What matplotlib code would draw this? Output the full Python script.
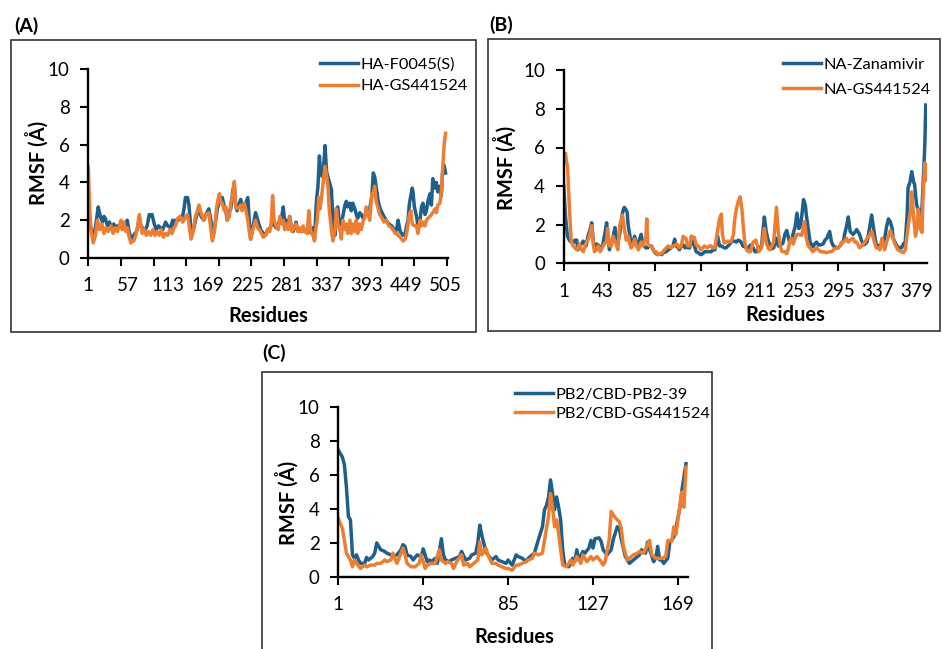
import matplotlib
matplotlib.use('Agg')
import matplotlib.pyplot as plt
from matplotlib.patches import Rectangle

plt.rcParams['font.family'] = ['Lato', 'DejaVu Sans']

W, H = 943, 649
BLUE = '#1F5F8B'
ORANGE = '#ED7D31'

# (A) HA : (residue, RMSF)
ha_f0045 = [(1,1.9),(4,1.7),(8,1.1),(11,1.6),(15,2.7),(18,2.2),(21,1.9),(23,2.2),(25,2.1),(28,1.7),
    (31,1.9),(33,1.6),(37,1.8),(40,1.5),(42,1.7),(45,1.6),(47,1.9),(51,1.6),(54,1.8),(56,2.0),
    (58,1.5),(61,1.0),(65,1.2),(69,1.4),(73,1.9),(77,1.6),(80,1.4),(84,1.7),(87,2.3),(89,2.2),
    (91,2.3),(94,1.8),(97,1.5),(100,1.7),(103,1.6),(106,1.5),(110,1.9),(113,1.7),(117,1.6),(120,2.0),
    (122,1.7),(124,2.0),(128,2.0),(131,2.2),(134,2.2),(136,2.6),(138,3.2),(141,3.2),(143,2.8),(146,1.4),
    (150,1.6),(154,2.3),(157,2.6),(160,2.2),(164,2.0),(167,2.3),(171,2.6),(174,2.0),(176,1.1),(180,1.8),
    (183,2.6),(186,3.0),(188,3.2),(190,3.2),(193,2.7),(195,2.5),(197,2.0),(200,2.5),(202,2.6),(205,3.6),
    (207,3.9),(209,2.7),(211,2.5),(214,2.9),(216,3.1),(218,2.6),(221,2.7),(224,3.0),(226,3.2),(228,2.0),
    (230,1.0),(233,1.6),(237,2.4),(240,2.0),(244,1.5),(248,1.3),(251,1.2),(254,1.5),(258,1.6),(261,2.1),
    (264,1.7),(266,1.6),(269,1.8),(271,2.0),(274,2.2),(276,2.7),(278,1.9),(280,2.0),(283,1.6),(285,2.2),
    (288,1.5),(290,1.4),(292,1.6),(294,1.9),(297,1.4),(299,1.5),(302,1.4),(304,1.6),(306,1.4),(308,1.5),
    (310,1.3),(312,1.6),(314,1.4),(316,1.3),(318,1.6),(320,1.0),(323,3.1),(325,3.8),(327,5.4),(329,4.4),
    (332,4.3),(335,5.95),(337,4.6),(339,4.3),(342,3.9),(344,3.6),(346,2.0),(349,1.2),(351,2.6),(353,2.7),
    (356,1.5),(358,1.7),(360,2.2),(363,2.8),(365,3.0),(367,2.7),(370,2.9),(372,2.5),(374,2.9),(377,2.6),
    (379,2.3),(381,2.1),(384,2.4),(386,2.3),(389,2.1),(391,2.2),(393,2.5),(396,2.4),(398,2.6),(401,3.3),
    (403,4.5),(405,4.3),(407,3.8),(410,3.0),(412,2.7),(414,2.5),(418,2.2),(421,2.0),(425,1.8),(429,1.7),
    (431,1.6),(434,1.4),(436,1.5),(438,2.0),(441,1.4),(445,1.2),(448,1.3),(450,1.7),(452,2.0),(454,2.9),
    (456,3.3),(458,3.7),(459,3.5),(461,2.7),(464,2.2),(466,1.7),(469,2.0),(471,2.7),(473,2.9),(476,2.3),
    (478,2.5),(480,3.0),(483,3.4),(485,2.8),(487,4.2),(490,3.7),(492,4.0),(494,3.5),(497,3.8),(499,3.3),
    (501,4.7),(503,4.9),(505,4.5)]
ha_gs441524 = [(1,4.8),(3,2.5),(5,1.4),(8,0.8),(11,1.2),(14,2.0),(17,1.5),(20,1.8),(23,1.3),(26,1.6),
    (29,1.4),(33,1.7),(36,1.3),(39,1.6),(42,1.4),(45,1.7),(47,2.0),(49,1.5),(51,1.9),(54,1.4),
    (56,1.6),(58,1.2),(61,0.8),(63,0.9),(65,0.9),(68,1.2),(70,1.6),(73,2.3),(75,1.8),(77,1.3),
    (80,1.5),(83,1.2),(86,1.4),(89,1.2),(92,1.5),(95,1.2),(98,1.4),(101,1.2),(104,1.5),(107,1.1),
    (110,1.3),(113,1.2),(116,1.5),(119,1.3),(122,1.6),(124,1.7),(127,2.1),(131,2.2),(134,1.9),(136,2.0),
    (138,2.2),(141,2.3),(143,1.8),(146,1.0),(149,1.4),(152,2.2),(155,2.5),(157,2.8),(160,2.4),(164,2.0),
    (167,2.3),(171,2.4),(173,1.8),(176,0.9),(179,1.4),(182,2.7),(184,3.1),(186,3.4),(188,2.9),(190,2.9),
    (193,2.5),(195,2.7),(197,2.0),(200,2.2),(202,2.9),(205,3.4),(207,4.05),(209,2.7),(211,2.6),(214,2.7),
    (216,2.8),(218,2.5),(221,2.9),(224,2.4),(226,2.0),(228,1.4),(230,1.0),(233,1.5),(237,2.0),(240,1.6),
    (244,1.4),(248,1.1),(251,1.2),(254,1.5),(257,1.4),(259,1.8),(261,3.3),(263,2.0),(266,1.7),(269,1.5),
    (271,2.2),(274,1.8),(276,2.0),(278,1.5),(280,1.8),(283,1.5),(285,2.2),(288,1.4),(290,1.5),(292,1.7),
    (294,1.8),(297,1.4),(299,1.6),(302,1.4),(304,1.7),(306,1.4),(308,1.5),(310,1.3),(312,2.5),(314,1.6),
    (316,1.3),(318,1.2),(320,0.9),(322,1.6),(324,2.0),(326,3.2),(328,2.6),(330,3.2),(332,3.9),(335,4.85),
    (337,4.4),(339,3.8),(341,2.5),(344,1.5),(346,0.9),(349,1.5),(351,2.6),(353,1.8),(356,1.5),(358,1.0),
    (360,2.0),(363,1.5),(365,1.8),(367,1.3),(370,2.0),(372,1.3),(374,1.8),(377,1.4),(379,2.0),(381,1.3),
    (384,1.8),(386,1.5),(389,2.0),(391,2.1),(393,2.7),(396,2.3),(398,2.0),(401,3.4),(403,3.4),(405,3.8),
    (407,3.0),(410,2.6),(412,2.3),(414,2.2),(418,1.9),(421,2.0),(425,1.7),(429,1.6),(431,1.5),(434,1.3),
    (436,1.3),(438,1.2),(441,1.1),(445,0.9),(448,1.0),(450,1.3),(452,1.8),(454,2.3),(456,2.5),(458,1.8),
    (461,1.7),(464,1.7),(466,1.3),(469,2.0),(471,1.7),(473,1.9),(476,1.7),(478,2.0),(480,2.1),(483,2.2),
    (485,2.3),(487,2.4),(490,2.6),(492,2.4),(494,2.8),(497,2.9),(499,3.5),(501,4.8),(503,6.0),(505,6.6)]

# (B) NA
na_zanamivir = [(1,4.05),(3,2.4),(5,1.4),(7,1.2),(9,1.1),(11,1.05),(13,1.2),(15,1.2),(16,0.7),(18,0.9),
    (20,1.0),(22,1.15),(25,0.9),(27,1.4),(29,1.7),(31,2.1),(33,1.0),(34,0.9),(36,1.0),(38,0.95),
    (40,0.8),(41,0.7),(43,1.0),(45,1.5),(47,2.1),(48,1.6),(50,0.7),(52,1.1),(54,1.4),(56,1.85),
    (58,0.9),(60,1.3),(61,1.5),(63,2.3),(64,2.6),(65,2.8),(66,2.9),(68,2.75),(69,2.65),(70,2.0),
    (72,1.4),(73,1.0),(74,0.9),(77,1.4),(79,1.0),(81,0.8),(82,1.2),(84,1.5),(86,1.0),(87,0.9),
    (89,0.8),(91,0.8),(93,0.9),(95,0.9),(98,0.6),(100,0.5),(102,0.45),(104,0.5),(106,0.45),(108,0.55),
    (109,0.6),(111,0.6),(113,0.7),(115,0.75),(116,0.8),(118,0.9),(120,1.25),(121,0.9),(123,0.85),(125,0.7),
    (127,0.9),(129,0.95),(131,0.8),(132,0.9),(134,0.8),(136,0.8),(138,1.4),(140,1.0),(141,0.9),(143,0.6),
    (145,0.55),(148,0.45),(150,0.5),(152,0.6),(155,0.6),(157,0.6),(159,0.6),(161,0.7),(163,0.7),(166,1.4),
    (168,0.9),(170,0.9),(173,0.8),(175,0.8),(177,0.9),(179,1.0),(181,1.15),(184,1.15),(186,1.1),(188,1.2),
    (190,1.15),(191,1.1),(193,0.9),(195,0.85),(197,0.8),(199,0.8),(201,0.95),(204,0.8),(206,0.6),(208,0.6),
    (210,0.8),(211,0.8),(213,0.9),(216,2.4),(218,1.65),(220,1.2),(222,0.95),(224,0.75),(226,0.8),(229,1.3),
    (231,0.9),(233,0.95),(235,1.0),(236,1.05),(238,1.5),(240,1.7),(243,1.1),(245,1.2),(247,1.55),(249,1.9),
    (251,2.6),(253,1.8),(255,2.0),(256,2.4),(258,3.3),(260,3.0),(261,2.5),(263,1.8),(265,1.1),(268,0.85),
    (270,1.0),(272,1.1),(274,0.95),(276,0.95),(279,1.0),(281,1.2),(283,1.3),(286,1.65),(288,1.1),(290,0.9),
    (292,0.85),(293,0.8),(295,0.8),(297,0.9),(299,1.05),(301,1.2),(302,1.5),(304,1.9),(306,2.4),(308,1.65),
    (311,1.5),(313,1.6),(315,1.75),(318,1.5),(320,1.2),(322,0.95),(324,1.0),(326,1.1),(328,1.6),(331,2.5),
    (334,1.5),(336,0.95),(338,0.9),(340,0.95),(342,1.0),(343,1.1),(345,1.3),(347,1.9),(349,2.3),(351,2.15),
    (353,1.8),(354,1.3),(356,1.1),(358,0.9),(359,0.85),(361,0.8),(363,0.8),(365,1.0),(367,1.1),(369,2.5),
    (370,3.9),(372,4.2),(374,4.75),(376,4.2),(377,4.1),(379,3.1),(380,2.9),(382,2.7),(384,2.5),(385,2.9),
    (387,5.0),(388,6.2),(389,8.2)]
na_gs441524 = [(1,5.65),(3,5.7),(4,5.2),(5,5.1),(7,3.0),(9,1.2),(11,0.9),(13,0.8),(15,0.7),(18,1.0),
    (20,0.7),(22,0.6),(25,1.05),(27,1.2),(29,1.5),(31,1.95),(33,0.9),(34,0.6),(36,0.7),(38,0.9),
    (40,0.6),(42,0.8),(45,1.05),(47,1.1),(48,1.8),(50,0.9),(52,0.9),(54,1.4),(56,1.1),(57,1.05),
    (59,0.7),(61,1.95),(63,2.3),(64,2.5),(66,1.8),(68,1.2),(70,1.4),(72,1.0),(73,0.8),(75,0.9),
    (77,1.25),(79,0.9),(81,0.7),(84,1.1),(86,0.9),(87,1.1),(89,1.3),(90,2.3),(91,1.0),(93,0.9),
    (95,0.9),(98,0.6),(100,0.6),(102,0.45),(104,0.5),(106,0.5),(109,0.7),(111,0.8),(113,0.9),(116,0.8),
    (118,0.9),(120,0.9),(122,1.0),(123,0.95),(125,0.8),(127,0.9),(129,1.4),(131,1.3),(132,1.3),(134,0.9),
    (136,0.9),(138,1.4),(140,1.3),(141,1.35),(143,0.95),(145,0.9),(148,0.7),(150,0.8),(152,0.9),(155,0.8),
    (157,0.9),(159,0.9),(161,0.8),(163,0.8),(166,1.75),(168,2.3),(170,2.55),(171,1.5),(173,1.05),(175,1.1),
    (177,1.15),(179,1.1),(181,1.2),(183,1.5),(184,2.2),(186,2.8),(188,3.2),(190,3.45),(192,2.8),(194,1.6),
    (195,1.1),(197,0.7),(199,0.6),(201,0.6),(204,1.1),(207,1.2),(210,0.6),(213,0.8),(216,1.8),(218,1.1),
    (220,0.8),(222,0.7),(226,1.1),(229,2.9),(231,1.6),(233,0.9),(235,0.6),(238,0.6),(240,0.5),(242,0.8),
    (243,1.1),(245,1.3),(247,1.0),(249,1.3),(251,1.5),(253,1.5),(256,1.45),(259,2.15),(260,1.8),(261,1.3),
    (263,0.9),(265,0.8),(268,0.6),(272,0.8),(276,0.6),(279,0.6),(283,0.55),(286,0.6),(288,0.6),(290,0.7),
    (293,0.8),(295,0.8),(297,0.9),(299,1.1),(301,1.1),(304,1.3),(306,1.1),(308,1.2),(311,1.3),(313,1.1),
    (315,1.1),(318,0.8),(320,0.9),(322,1.0),(324,1.1),(326,1.3),(328,1.4),(331,1.65),(334,1.1),(336,0.8),
    (338,0.8),(340,0.7),(342,1.3),(344,0.9),(345,0.7),(347,1.1),(349,1.4),(351,1.7),(353,1.4),(356,1.0),
    (359,0.7),(363,0.6),(365,0.55),(367,0.7),(369,1.5),(371,2.2),(373,2.8),(374,3.7),(376,2.4),(378,1.4),
    (380,2.0),(381,2.8),(383,1.8),(385,1.6),(386,3.4),(388,5.2),(389,4.3)]

# (C) PB2/CBD
pb2_pb239 = [(1,7.45),(3,7.05),(4,6.6),(5,5.3),(6,3.55),(7,3.35),(8,1.3),(9,1.1),(10,1.3),(11,1.0),
    (12,0.8),(14,0.8),(15,1.15),(16,1.0),(18,1.2),(19,1.4),(20,2.0),(22,1.6),(24,1.5),(25,1.4),
    (27,1.3),(28,1.2),(30,1.3),(32,1.6),(33,1.9),(34,1.8),(35,1.3),(37,1.2),(38,1.0),(40,1.3),
    (42,1.2),(43,1.65),(45,0.9),(46,1.0),(47,0.9),(49,1.1),(50,0.8),(52,2.25),(53,1.3),(54,1.0),
    (56,0.9),(57,1.0),(59,1.1),(61,1.2),(62,1.5),(64,1.0),(66,1.1),(67,1.3),(69,1.4),(70,2.0),
    (71,3.05),(72,2.45),(74,1.5),(75,1.3),(77,1.0),(79,1.2),(80,1.0),(82,0.9),(84,0.8),(85,1.0),
    (87,0.7),(89,1.3),(90,1.2),(92,1.1),(94,0.9),(95,1.1),(97,1.3),(98,1.4),(100,2.2),(102,2.95),
    (103,3.95),(104,4.2),(105,4.7),(106,5.7),(107,4.9),(108,3.95),(109,4.7),(110,4.1),(111,3.35),(112,1.6),
    (113,0.7),(115,0.6),(117,1.1),(118,0.9),(119,1.6),(120,1.0),(122,1.5),(123,1.4),(125,1.7),(126,2.15),
    (127,1.7),(128,2.25),(130,2.3),(131,2.1),(132,1.6),(134,1.3),(136,1.6),(137,2.2),(139,2.95),(140,2.9),
    (141,2.2),(143,1.2),(145,0.8),(146,0.9),(148,1.1),(150,1.3),(151,1.6),(153,1.4),(154,2.05),(155,1.6),
    (157,0.9),(158,1.1),(159,1.8),(160,1.0),(161,1.0),(162,0.8),(164,1.1),(165,2.05),(167,2.35),(168,2.85),
    (170,4.1),(171,5.1),(173,6.65)]
pb2_gs441524 = [(1,3.45),(3,2.85),(4,2.15),(5,1.4),(7,1.0),(8,0.6),(9,1.0),(10,0.8),(12,0.5),(14,0.7),
    (15,0.6),(17,0.7),(19,0.7),(20,0.8),(22,0.8),(24,1.0),(25,0.9),(27,1.0),(28,1.4),(30,0.8),
    (32,1.4),(33,1.7),(34,1.3),(35,0.8),(37,0.6),(39,0.6),(41,0.8),(42,1.3),(44,0.5),(45,0.7),
    (47,0.8),(49,0.8),(51,1.6),(52,1.0),(54,0.8),(55,0.9),(57,0.8),(58,0.5),(60,1.0),(62,1.3),
    (63,0.7),(65,0.8),(66,0.6),(68,0.8),(70,1.0),(71,2.05),(72,1.3),(74,1.7),(75,1.3),(77,0.8),
    (79,0.8),(80,0.7),(82,0.6),(84,0.5),(85,0.5),(87,0.4),(89,0.7),(90,0.7),(92,0.8),(94,0.9),
    (95,1.0),(97,1.1),(98,1.4),(100,1.3),(102,1.4),(103,2.15),(105,3.55),(106,4.9),(107,4.1),(108,2.95),
    (109,3.35),(110,2.55),(111,1.6),(112,0.7),(114,0.6),(116,1.0),(117,0.7),(119,1.2),(121,0.8),(122,1.3),
    (124,0.9),(126,1.2),(127,1.0),(129,1.2),(131,0.9),(132,0.7),(133,0.9),(135,2.2),(136,3.85),(137,3.65),
    (139,3.35),(140,3.25),(141,2.85),(142,1.8),(144,1.0),(145,1.1),(147,1.3),(149,1.4),(150,1.5),(152,1.4),
    (154,1.9),(155,2.15),(156,1.3),(158,1.1),(160,1.1),(161,1.1),(163,1.2),(164,2.15),(166,2.1),(167,2.95),
    (168,2.5),(169,3.35),(171,5.0),(172,4.1),(173,6.45)]

ha_labels = [1, 57, 113, 169, 225, 281, 337, 393, 449, 505]
ha_marks = [1 + 46 * k for k in range(12)]
na_labels = [1, 43, 85, 127, 169, 211, 253, 295, 337, 379]
na_marks = [1 + 49 * k for k in range(8)]
pb2_labels = [1, 43, 85, 127, 169]
pb2_marks = pb2_labels

fig = plt.figure(figsize=(W / 100, H / 100), dpi=100)


def px_axes(l, t, r, b):
    return fig.add_axes([l / W, 1 - b / H, (r - l) / W, (b - t) / H])


def fx(x):
    return x / W


def fy(y):
    return 1 - y / H


def panel(box, axbox, tag, tagpos, s1, s2, names, xmax, labels, marks,
          leg_xy, leg_space, xl_xy, yl_xy):
    l, t, r, b = box
    fig.add_artist(Rectangle((fx(l), fy(b)), (r - l) / W, (b - t) / H,
                             transform=fig.transFigure, fill=False,
                             ec='#333333', lw=1.2))
    fig.text(fx(tagpos[0]), fy(tagpos[1]), tag, fontsize=14,
             fontweight='bold', ha='center', va='center')
    ax = px_axes(*axbox)
    x1, y1 = zip(*s1)
    x2, y2 = zip(*s2)
    ax.plot(x1, y1, color=BLUE, lw=2.5, label=names[0], solid_joinstyle='round')
    ax.plot(x2, y2, color=ORANGE, lw=2.5, label=names[1], solid_joinstyle='round')
    ax.set_xlim(1, xmax)
    ax.set_ylim(0, 10)
    ax.set_yticks(range(0, 11, 2))
    ax.set_xticks(labels)
    ax.set_xticks(marks, minor=True)
    ax.xaxis.remove_overlapping_locs = False
    ax.tick_params(axis='x', which='major', length=0, pad=14, labelsize=13.5)
    ax.tick_params(axis='x', which='minor', length=6, width=1.5, direction='out')
    ax.tick_params(axis='y', length=5.5, width=1.5, pad=8, labelsize=13.5)
    for s in ['top', 'right']:
        ax.spines[s].set_visible(False)
    for s in ['left', 'bottom']:
        ax.spines[s].set_linewidth(1.7)
    ax.set_xlabel('Residues', fontsize=14.5, fontweight='bold')
    ax.xaxis.set_label_coords(fx(xl_xy[0]), fy(xl_xy[1]), transform=fig.transFigure)
    ax.xaxis.label.set_va('center')
    ax.set_ylabel('RMSF (Å)', fontsize=14.5, fontweight='bold')
    ax.yaxis.set_label_coords(fx(yl_xy[0]), fy(yl_xy[1]), transform=fig.transFigure)
    ax.yaxis.label.set_va('center')
    ax.legend(loc='upper left', bbox_to_anchor=(fx(leg_xy[0]), fy(leg_xy[1])),
              bbox_transform=fig.transFigure, frameon=False, fontsize=11.8,
              borderpad=0, borderaxespad=0, handlelength=2.3, handletextpad=0.2,
              labelspacing=leg_space)
    return ax


panel((11, 40, 476, 332), (88.3, 69, 447.7, 258), '(A)', (26, 25.5),
      ha_f0045, ha_gs441524, ['HA-F0045(S)', 'HA-GS441524'], 508,
      ha_labels, ha_marks, (320, 57), 0.45, (268.5, 316), (36.7, 163))
panel((488, 39, 940, 331), (563.7, 70.3, 926.7, 263.3), '(B)', (501, 25),
      na_zanamivir, na_gs441524, ['NA-Zanamivir', 'NA-GS441524'], 390,
      na_labels, na_marks, (783, 57.5), 0.62, (785.8, 315), (505, 167.5))
panel((262, 372, 712, 680), (338.3, 406.7, 688, 577), '(C)', (274, 353),
      pb2_pb239, pb2_gs441524, ['PB2/CBD-PB2-39', 'PB2/CBD-GS441524'], 174,
      pb2_labels, pb2_marks, (515, 387.5), 0.27, (514, 636.7), (286.7, 502.5))

fig.savefig('out.png', dpi=100)
